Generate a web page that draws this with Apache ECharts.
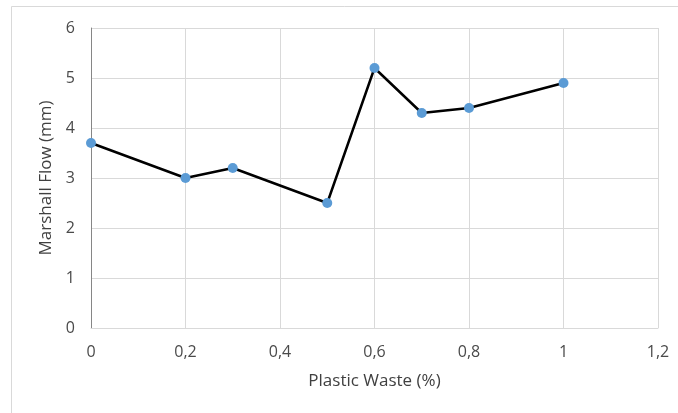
<!DOCTYPE html>
<html>
<head>
<meta charset="utf-8">
<script src="https://cdn.jsdelivr.net/npm/echarts@6/dist/echarts.min.js"></script>
<style>
  html, body { margin: 0; padding: 0; background: #fff; }
  #chart { width: 678px; height: 413px; }
</style>
</head>
<body>
<div id="chart"></div>
<script>
// Plastic waste content (%) and the measured Marshall flow (mm)
const plasticWaste = [0, 0.2, 0.3, 0.5, 0.6, 0.7, 0.8, 1.0];
const marshallFlow = [3.7, 3.0, 3.2, 2.5, 5.2, 4.3, 4.4, 4.9];

const xAxisTitle = 'Plastic Waste (%)';
const yAxisTitle = 'Marshall Flow (mm)';

const font = 'Open Sans';
const textColor = '#4a4a4a';

const chart = echarts.init(document.getElementById('chart'), null, { renderer: 'canvas' });

chart.setOption({
  animation: false,
  backgroundColor: '#fff',
  textStyle: { fontFamily: font },
  graphic: [
    { type: 'line', shape: { x1: 11.5, y1: 6.5, x2: 11.5, y2: 413 }, style: { stroke: '#d9d9d9', lineWidth: 1 } },
    { type: 'line', shape: { x1: 11.5, y1: 6.5, x2: 678, y2: 6.5 }, style: { stroke: '#d9d9d9', lineWidth: 1 } }
  ],
  grid: { left: 91, right: 20, top: 28, bottom: 85, containLabel: false },
  xAxis: {
    type: 'value',
    min: 0, max: 1.2, interval: 0.2,
    name: xAxisTitle,
    nameLocation: 'middle',
    nameGap: 45,
    nameTextStyle: { color: '#404040', fontSize: 17, fontFamily: font },
    axisLine: { show: true, lineStyle: { color: '#d9d9d9', width: 1 } },
    axisTick: { show: false },
    axisLabel: {
      color: textColor, fontSize: 16, fontFamily: font, margin: 16,
      formatter: v => String(Math.round(v * 10) / 10).replace('.', ',')
    },
    splitLine: { show: true, lineStyle: { color: '#d9d9d9', width: 1 } }
  },
  yAxis: {
    type: 'value',
    min: 0, max: 6, interval: 1,
    name: yAxisTitle,
    nameLocation: 'middle',
    nameGap: 34,
    nameRotate: 90,
    nameTextStyle: { color: '#404040', fontSize: 17, fontFamily: font },
    axisLine: { show: true, onZero: false, lineStyle: { color: '#868686', width: 1 } },
    axisTick: { show: false },
    axisLabel: { color: textColor, fontSize: 16, fontFamily: font, margin: 16 },
    splitLine: { show: true, lineStyle: { color: '#d9d9d9', width: 1 } }
  },
  series: [{
    type: 'line',
    data: plasticWaste.map((x, i) => [x, marshallFlow[i]]),
    lineStyle: { color: '#000', width: 2.5 },
    symbol: 'circle',
    symbolSize: 10,
    itemStyle: { color: '#5b9bd5', borderWidth: 0 },
    z: 3
  }]
});
</script>
</body>
</html>
